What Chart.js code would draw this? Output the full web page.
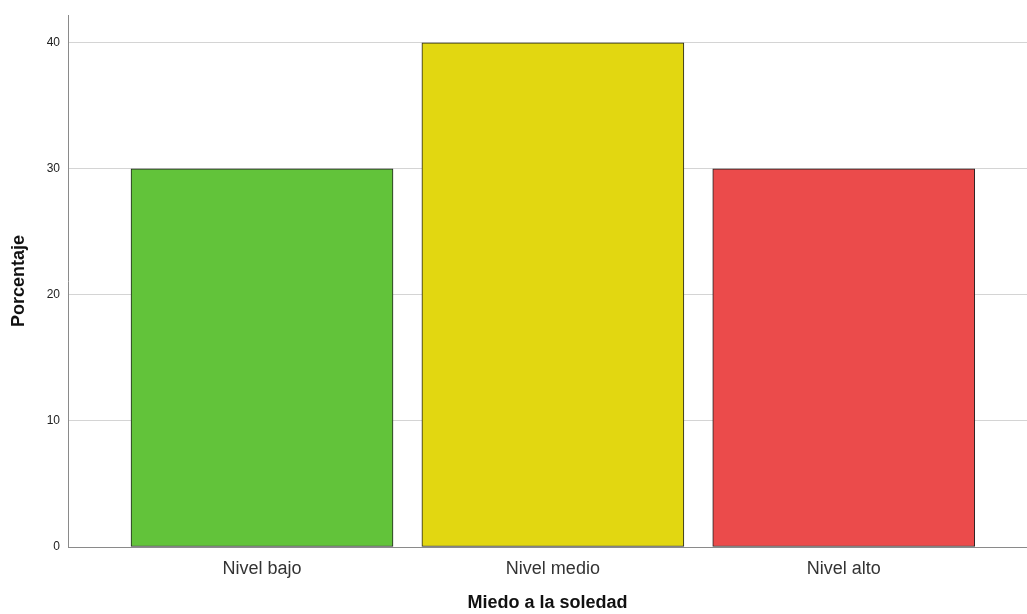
<!DOCTYPE html>
<html>
<head>
<meta charset="utf-8">
<script src="https://cdn.jsdelivr.net/npm/chart.js@4"></script>
<style>
  html, body { margin: 0; padding: 0; background: #fff; }
  #wrap { width: 1027px; height: 614px; }
</style>
</head>
<body>
<div id="wrap"><canvas id="chart" width="1027" height="614"></canvas></div>
<script>
// categories and percentages
var categorias = ["Nivel bajo", "Nivel medio", "Nivel alto"];
var porcentajes = [30, 40, 30];
var colores = ["#62c33a", "#e2d711", "#eb4b4b"];
var yTicks = [0, 10, 20, 30, 40];

var puntos = [];
for (var i = 0; i < categorias.length; i++) {
	puntos.push({ x: i, y: porcentajes[i] });
}

var ctx = document.getElementById("chart");

var chart = new Chart(ctx, {
	type: "bar",
	data: {
		datasets: [{
			data: puntos,
			backgroundColor: colores,
			borderColor: "#222",
			borderWidth: 1,
			borderSkipped: false,
			barThickness: 262
		}]
	},
	options: {
		responsive: false,
		animation: false,
		layout: { padding: { top: 14, right: 0, left: 0, bottom: 0 } },
		plugins: {
			legend: { display: false },
			tooltip: { enabled: false }
		},
		scales: {
			x: {
				type: "linear",
				offset: false,
				min: -0.667,
				max: 2.63,
				afterBuildTicks: function(s) {
					s.ticks = categorias.map(function(c, i) { return { value: i }; });
				},
				afterFit: function(s) { s.height = 67; },
				grid: { display: false, drawTicks: false },
				border: { display: true, color: "#8a8a8a", width: 1 },
				ticks: {
					padding: 11,
					color: "#333",
					font: { family: "Liberation Sans, Arial", size: 18 },
					callback: function(v) { return categorias[v]; }
				},
				title: {
					display: true,
					text: "Miedo a la soledad",
					color: "#111",
					font: { family: "Liberation Sans, Arial", size: 18, weight: "bold" },
					padding: { top: 0, bottom: 0 }
				}
			},
			y: {
				min: 0,
				max: 42.2,
				afterBuildTicks: function(s) {
					s.ticks = yTicks.map(function(v) { return { value: v }; });
				},
				afterFit: function(s) { s.width = 68; },
				grid: {
					drawTicks: false,
					color: function(c) { return c.tick.value === 0 ? "rgba(0,0,0,0)" : "#d4d4d4"; }
				},
				border: { display: true, color: "#8a8a8a", width: 1 },
				ticks: {
					padding: 8,
					color: "#222",
					font: { family: "Liberation Sans, Arial", size: 12 }
				},
				title: {
					display: true,
					text: "Porcentaje",
					color: "#111",
					font: { family: "Liberation Sans, Arial", size: 18, weight: "bold" },
					padding: { top: 8, bottom: 0 }
				}
			}
		}
	}
});
</script>
</body>
</html>
